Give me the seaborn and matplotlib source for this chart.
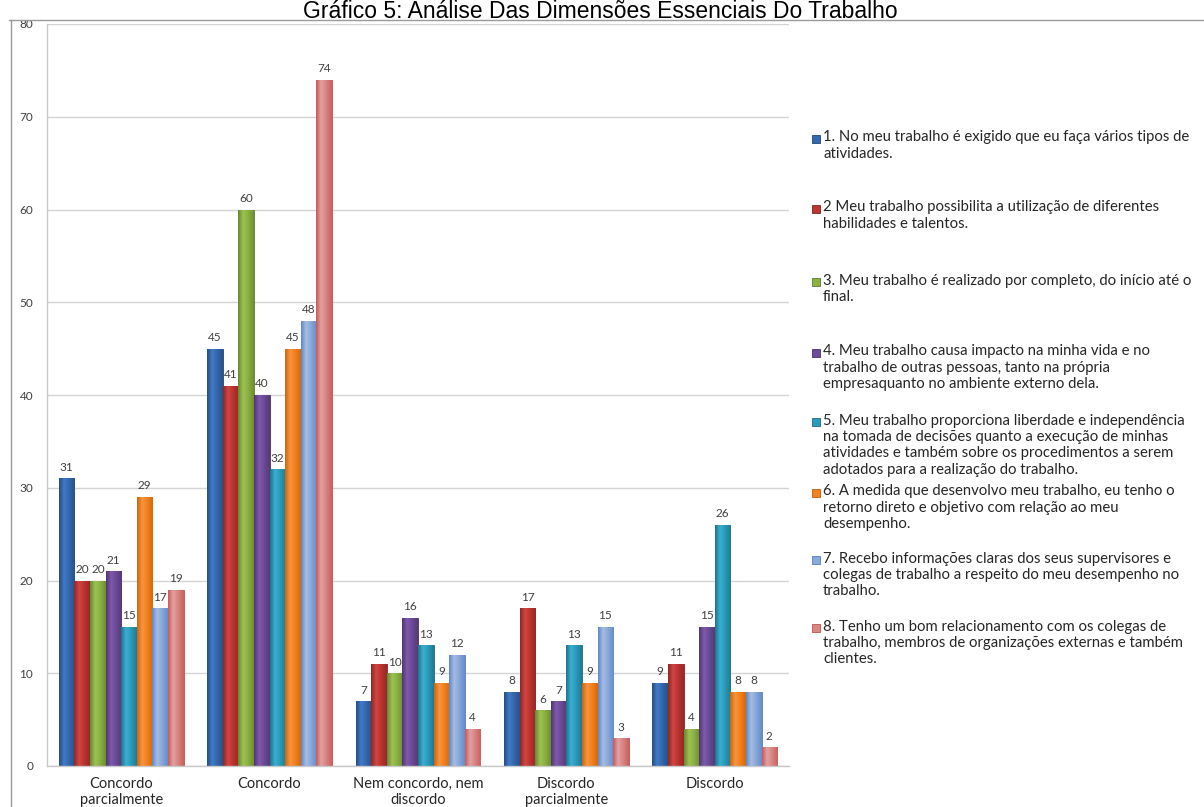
import colorsys
import matplotlib
matplotlib.use("Agg")
import matplotlib.pyplot as plt
from matplotlib.lines import Line2D
from matplotlib.patches import Rectangle
from matplotlib.colors import LinearSegmentedColormap, to_rgb
import numpy as np
import pandas as pd
import seaborn as sns

# Response categories (x axis)
respostas = [
    "Concordo\nparcialmente",
    "Concordo",
    "Nem concordo, nem\ndiscordo",
    "Discordo\nparcialmente",
    "Discordo",
]

# Statements (one series each)
itens = [
    "1. No meu trabalho é exigido que eu faça vários tipos de\natividades.",
    "2 Meu trabalho possibilita a utilização de diferentes\nhabilidades e talentos.",
    "3. Meu trabalho é realizado por completo, do início até o\nfinal.",
    "4. Meu trabalho causa impacto na minha vida e no\ntrabalho de outras pessoas, tanto na própria\nempresaquanto no ambiente externo dela.",
    "5. Meu trabalho proporciona liberdade e independência\nna tomada de decisões quanto a execução de minhas\natividades e também sobre os procedimentos a serem\nadotados para a realização do trabalho.",
    "6. A medida que desenvolvo meu trabalho, eu tenho o\nretorno direto e objetivo com relação ao meu\ndesempenho.",
    "7. Recebo informações claras dos seus supervisores e\ncolegas de trabalho a respeito do meu desempenho no\ntrabalho.",
    "8. Tenho um bom relacionamento com os colegas de\ntrabalho, membros de organizações externas e também\nclientes.",
]

# Values per statement, in the order of `respostas`
item1 = [31, 45, 7, 8, 9]
item2 = [20, 41, 11, 17, 11]
item3 = [20, 60, 10, 6, 4]
item4 = [21, 40, 16, 7, 15]
item5 = [15, 32, 13, 13, 26]
item6 = [29, 45, 9, 9, 8]
item7 = [17, 48, 12, 15, 8]
item8 = [19, 74, 4, 3, 2]
series = [item1, item2, item3, item4, item5, item6, item7, item8]

cores = ["#3469B0", "#BE3430", "#8CB341", "#6D4B98",
         "#2B9CBD", "#F5821F", "#8BA9D9", "#D88786"]

df = pd.DataFrame(
    [(r, itens[i], v) for i, vals in enumerate(series) for r, v in zip(respostas, vals)],
    columns=["resposta", "item", "valor"],
)

sns.set_style("white")
plt.rcParams["font.family"] = ["Lato", "DejaVu Sans"]

W, H = 1204, 807
fig = plt.figure(figsize=(W / 100, H / 100), dpi=100)
ax = fig.add_axes([47 / W, 41 / H, (789 - 47) / W, 742 / H])

sns.barplot(data=df, x="resposta", y="valor", hue="item", hue_order=itens,
            order=respostas, palette=cores, saturation=1, width=0.84, gap=0,
            legend=False, ax=ax, edgecolor="none")


def shift_light(c, dl):
    """Return colour c with its HLS lightness shifted by dl."""
    h, l, s = colorsys.rgb_to_hls(*to_rgb(c))
    return colorsys.hls_to_rgb(h, min(0.95, max(0.0, l + dl)), s)


# cylinder-like shading on every bar
grad = np.linspace(0, 1, 64).reshape(1, -1)
for cont, c in zip(ax.containers, cores):
    cmap = LinearSegmentedColormap.from_list(
        "cyl", [(0.0, shift_light(c, -0.12)),
                (0.32, shift_light(c, 0.07)),
                (0.6, to_rgb(c)),
                (1.0, shift_light(c, -0.10))])
    for bar in cont:
        bar.set_edgecolor(shift_light(c, -0.15))
        bar.set_linewidth(0.6)
        x0, w, hgt = bar.get_x(), bar.get_width(), bar.get_height()
        im = ax.imshow(grad, extent=[x0, x0 + w, 0, hgt], aspect="auto", cmap=cmap,
                       zorder=bar.get_zorder() + 0.05, interpolation="bilinear")
        im.set_clip_path(bar)
    ax.bar_label(cont, fmt="%d", padding=4, fontsize=8.5, color="#404040")

ax.set_ylim(0, 80)
ax.set_yticks(range(0, 81, 10))
ax.set_xlim(-0.5, 4.5)
ax.set_aspect("auto")
ax.set_xlabel("")
ax.set_ylabel("")
ax.yaxis.grid(True, color="#d4d4d4", lw=1)
ax.set_axisbelow(True)
for s in ["top", "right"]:
    ax.spines[s].set_visible(False)
for s in ["left", "bottom"]:
    ax.spines[s].set_color("#c8c8c8")
    ax.spines[s].set_linewidth(1)
ax.tick_params(axis="y", length=0, pad=10, labelsize=8.5, labelcolor="#404040")
ax.tick_params(axis="x", length=0, pad=8, labelsize=10.5, labelcolor="#262626")

# outer chart frame
top_y = 1 - 20 / H
fig.add_artist(Line2D([11 / W, 11 / W], [0, top_y], transform=fig.transFigure,
                      color="#9a9a9a", lw=1))
fig.add_artist(Line2D([9 / W, 1], [top_y, top_y], transform=fig.transFigure,
                      color="#9a9a9a", lw=1))

# title
fig.text(600 / W, 1 - 17.5 / H, "Gráfico 5: Análise Das Dimensões Essenciais Do Trabalho",
         ha="center", va="baseline", fontsize=16.5, family=["Liberation Sans", "DejaVu Sans"],
         color="black")

# legend
leg_y = [139, 209, 282, 353, 422, 493, 560, 628]
for y, txt, c in zip(leg_y, itens, cores):
    fig.add_artist(Rectangle((812 / W, 1 - (y + 4) / H), 8 / W, 8 / H,
                             transform=fig.transFigure, facecolor=c,
                             edgecolor=shift_light(c, -0.15), lw=0.6))
    fig.text(823 / W, 1 - (y - 8.5) / H, txt, ha="left", va="top", fontsize=10.7,
             color="#262626", linespacing=1.22)

fig.savefig("out.png", dpi=100)
